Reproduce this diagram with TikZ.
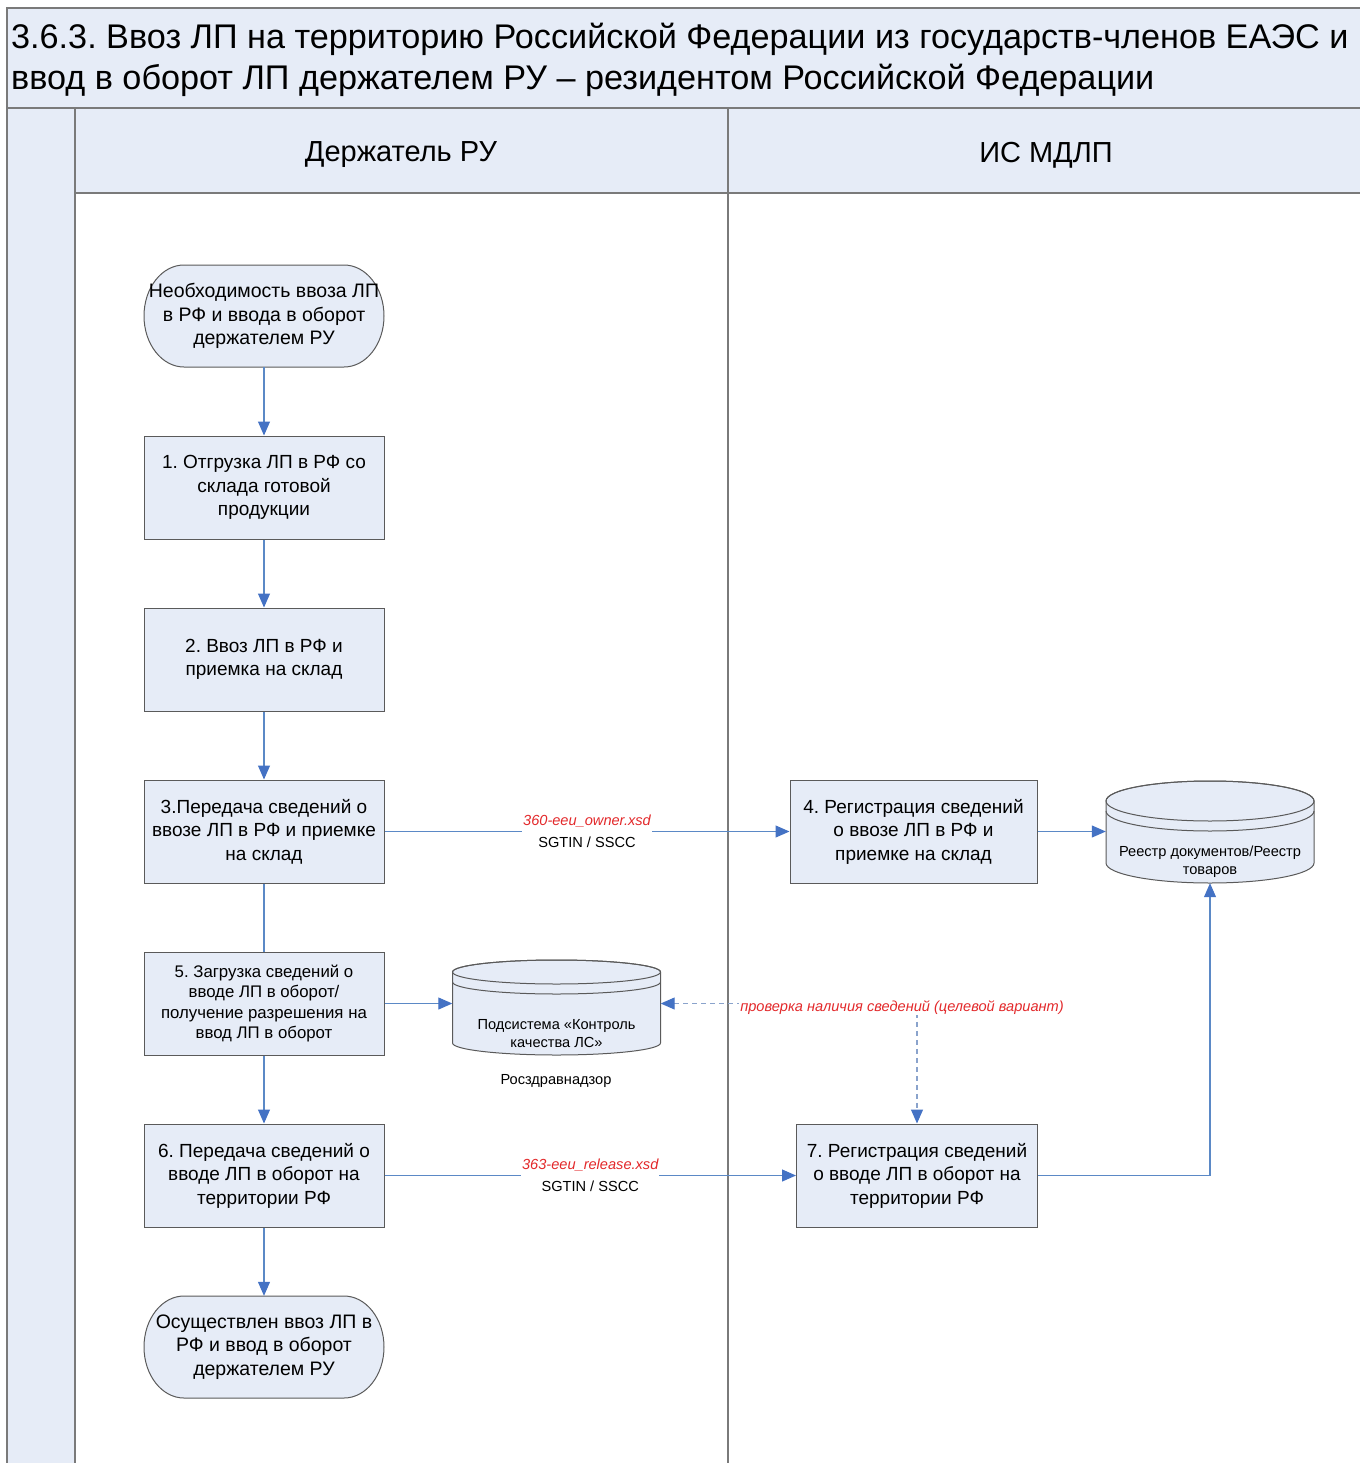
\documentclass[tikz,border=0pt]{standalone}
\usepackage{fontspec}
\setmainfont{Liberation Sans}
\usetikzlibrary{arrows.meta}
\frenchspacing

\definecolor{lanefill}{HTML}{E6ECF7}
\definecolor{frameline}{HTML}{7A7A7A}
\definecolor{boxline}{HTML}{5A5A5A}
\definecolor{flowblue}{HTML}{5B89C6}
\definecolor{tipblue}{HTML}{4472C4}
\definecolor{dashblue}{HTML}{8AA3CC}
\definecolor{notered}{HTML}{E3292B}

\tikzset{
  frame/.style={draw=frameline, line width=1.6pt},
  lanehead/.style={font=\fontsize{29}{34}\selectfont, inner sep=0pt},
  procbox/.style={draw=boxline, line width=1pt, fill=lanefill,
    minimum width=240pt, minimum height=103pt, inner sep=0pt, align=center,
    font=\fontsize{19}{23.5}\selectfont},
  smallproc/.style={procbox, font=\fontsize{16.8}{20.4}\selectfont},
  termtext/.style={minimum width=240pt, minimum height=102pt, inner sep=0pt,
    align=center, font=\fontsize{19.5}{23.3}\selectfont},
  termshape/.style={draw=boxline, line width=1pt, fill=lanefill},
  dbshape/.style={draw=boxline, line width=1pt, fill=lanefill},
  dbtext/.style={align=center, inner sep=0pt, font=\fontsize{14.6}{18}\selectfont},
  dbarea/.style={inner sep=0pt},
  flow/.style={draw=flowblue, line width=1.1pt,
    -{Triangle[length=14pt, width=12pt, color=tipblue]}},
  plainflow/.style={draw=flowblue, line width=1.1pt},
  checkflow/.style={draw=dashblue, line width=1.1pt, dash pattern=on 5pt off 4pt,
    {Triangle[length=14pt, width=12pt, color=tipblue]}-{Triangle[length=14pt, width=12pt, color=tipblue]}},
  msglabel/.style={fill=white, align=center, inner xsep=1pt, inner ysep=1pt,
    font=\fontsize{14.6}{21.5}\selectfont},
  checklabel/.style={fill=white, inner sep=1pt, text=notered,
    font=\fontsize{14.6}{18}\selectfont\itshape},
  caption/.style={inner sep=0pt, font=\fontsize{14.6}{18}\selectfont}
}

% Terminator: straight top and bottom, elliptic ends
\newcommand\terminal[4]{%
  \path[termshape] (#2-80,#3-51) -- (#2+80,#3-51)
    arc[start angle=90, end angle=-90, x radius=40pt, y radius=51pt]
    -- (#2-80,#3+51)
    arc[start angle=270, end angle=90, x radius=40pt, y radius=51pt] -- cycle;
  \node[termtext] (#1) at (#2,#3) {#4};
}

% Database drum: name, centre x, top, bottom, rim radius
\newcommand\database[5]{%
  \path[dbshape] (#2-104,#3+#5) -- (#2-104,#4-#5)
    arc[start angle=180, end angle=360, x radius=104pt, y radius=#5pt]
    -- (#2+104,#3+#5)
    arc[start angle=0, end angle=180, x radius=104pt, y radius=#5pt] -- cycle;
  \draw[boxline, line width=1pt] (#2,#3+#5) ellipse[x radius=104pt, y radius=#5pt];
  \draw[boxline, line width=1pt] (#2-104,#3+#5+10)
    arc[start angle=180, end angle=360, x radius=104pt, y radius=#5pt];
  \node[dbarea, minimum width=208pt, minimum height=#4-#3] (#1) at (#2,{(#3+#4)/2}) {};
}

\begin{document}
\begin{tikzpicture}[x=1pt, y=-1pt]
\useasboundingbox (0,0) rectangle (1359,1463);

% ---- title band ----
\path[fill=lanefill, frame] (7,8) rectangle (1375,108);
\node[anchor=west, align=left, inner sep=0pt,
      font=\fontsize{34.2}{40.5}\selectfont] (title) at (11,60)
  {3.6.3. Ввоз ЛП на территорию Российской Федерации из государств-членов ЕАЭС и\\
   ввод в оборот ЛП держателем РУ – резидентом Российской Федерации};

% ---- pool and lanes ----
\fill[lanefill] (7,108) rectangle (75,1475);
\fill[lanefill] (75,108) rectangle (1375,193);
\draw[frame] (7,108) -- (7,1475);
\draw[frame] (75,108) -- (75,1475);
\draw[frame] (728,108) -- (728,1475);
\draw[frame] (75,193) -- (1375,193);
\draw[frame] (7,108) -- (1375,108);

\node[lanehead] (laneA) at (401,155) {Держатель РУ};
\node[lanehead] (laneB) at (1046,155) {ИС МДЛП};

% ---- holder lane ----
\terminal{start}{264}{316}{Необходимость ввоза ЛП\\в РФ и ввода в оборот\\держателем РУ}
\node[procbox] (s1) at (264,487.5) {1. Отгрузка ЛП в РФ со\\склада готовой\\продукции};
\node[procbox] (s2) at (264,659.5) {2. Ввоз ЛП в РФ и\\приемка на склад};
\node[procbox] (s3) at (264,831.5) {3.Передача сведений о\\ввозе ЛП в РФ и приемке\\на склад};
\node[smallproc] (s5) at (264,1003.5) {5. Загрузка сведений о\\вводе ЛП в оборот/\\получение разрешения на\\ввод ЛП в оборот};
\node[procbox] (s6) at (264,1175.5) {6. Передача сведений о\\вводе ЛП в оборот на\\территории РФ};
\terminal{finish}{264}{1347}{Осуществлен ввоз ЛП в\\РФ и ввод в оборот\\держателем РУ}

% ---- quality-control subsystem ----
\database{qc}{556.5}{960}{1055}{12}
\node[dbtext] (qctext) at (556.5,1034) {Подсистема «Контроль\\качества ЛС»};
\node[caption] (roszdrav) at (556,1081) {Росздравнадзор};

% ---- MDLP lane ----
\node[procbox, minimum width=247pt] (s4) at (913.5,831.5) {4. Регистрация сведений\\о ввозе ЛП в РФ и\\приемке на склад};
\node[procbox, minimum width=241pt] (s7) at (917,1175.5) {7. Регистрация сведений\\о вводе ЛП в оборот на\\территории РФ};
\database{reg}{1210}{781}{883}{20}
\node[dbtext] (regtext) at (1210,862) {Реестр документов/Реестр\\товаров};

% ---- connectors ----
\draw[flow] (start) -- (s1);
\draw[flow] (s1) -- (s2);
\draw[flow] (s2) -- (s3);
\draw[plainflow] (s3) -- (s5);
\draw[flow] (s5) -- (s6);
\draw[flow] (s6) -- (finish);

\draw[flow] (s3) -- node[msglabel] {\textcolor{notered}{\itshape 360-eeu\_owner.xsd}\\SGTIN / SSCC} (s4);
\draw[flow] (s4.east) -- (s4.east -| reg.west);
\draw[flow] (s5.east) -- (s5.east -| qc.west);
\draw[flow] (s6) -- node[msglabel] {\textcolor{notered}{\itshape 363-eeu\_release.xsd}\\SGTIN / SSCC} (s7);
\draw[flow] (s7.east) -| (reg.south);

\draw[checkflow] (s5.east -| qc.east) -| node[pos=0.5, checklabel, xshift=-15pt, yshift=-4pt]
  {проверка наличия сведений (целевой вариант)} (s7.north);
\end{tikzpicture}
\end{document}
